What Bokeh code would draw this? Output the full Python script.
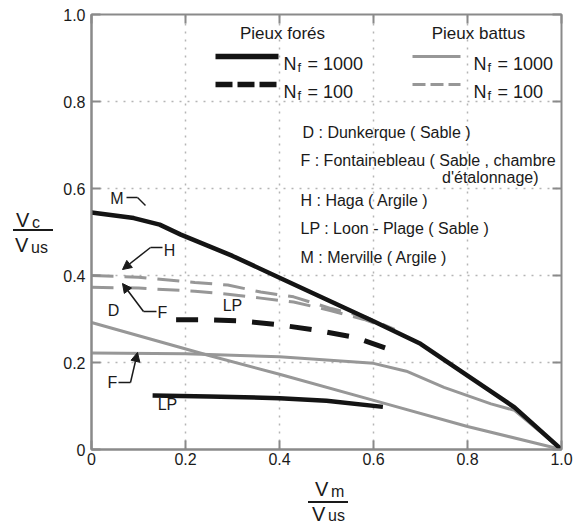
from bokeh.plotting import figure
from bokeh.layouts import row, column
from bokeh.models import Label, Arrow, NormalHead, FixedTicker, LinearAxis, Range1d, Div
from bokeh.embed import file_html
from bokeh.resources import INLINE

# ---------------- data ----------------
# Pieux forés, Nf = 1000 (black solid)
m_x = [0.0, 0.09, 0.145, 0.19, 0.30, 0.40, 0.50, 0.60, 0.70, 0.80, 0.90, 1.0]
m_y = [0.545, 0.532, 0.517, 0.494, 0.445, 0.395, 0.345, 0.295, 0.243, 0.17, 0.097, 0.0]
lp1000_x = [0.13, 0.25, 0.40, 0.50, 0.62]
lp1000_y = [0.124, 0.122, 0.118, 0.112, 0.098]
# Pieux forés, Nf = 100 (black dashed)
lp100_x = [0.18, 0.25, 0.31, 0.39, 0.48, 0.56, 0.64]
lp100_y = [0.298, 0.298, 0.296, 0.288, 0.274, 0.258, 0.228]
# Pieux battus, Nf = 100 (gray dashed)
h100_x = [0.0, 0.10, 0.22, 0.29, 0.36, 0.43, 0.51, 0.58, 0.645]
h100_y = [0.400, 0.396, 0.384, 0.378, 0.362, 0.351, 0.324, 0.306, 0.276]
f100_x = [0.0, 0.10, 0.22, 0.29, 0.36, 0.43, 0.51, 0.58, 0.645]
f100_y = [0.373, 0.371, 0.364, 0.357, 0.348, 0.339, 0.319, 0.299, 0.274]
# Pieux battus, Nf = 1000 (gray solid)
f1000_x = [0.0, 0.2, 0.4, 0.6, 0.67, 0.75, 0.85, 0.90, 1.0]
f1000_y = [0.222, 0.220, 0.213, 0.198, 0.180, 0.143, 0.105, 0.090, 0.0]
d1000_x = [0.0, 0.25, 0.40, 0.61, 0.80, 1.0]
d1000_y = [0.292, 0.216, 0.173, 0.110, 0.053, 0.0]

ticks = [0.0, 0.2, 0.4, 0.6, 0.8, 1.0]
tick_labels = ["0", "0.2", "0.4", "0.6", "0.8", "1.0"]

# ---------------- layout (canvas pixels of the whole page) ----------------
PAGE_W, PAGE_H = 579, 524
YDIV_W = 56            # column holding the y title
PLOT_H = 474           # figure height; x title below it
FL, FR, FT, FB = 91, 561, 14, 449   # frame edges in page pixels

W = PAGE_W - YDIV_W


def X(px):
    return (px - FL) / (FR - FL)


def Y(py):
    return (FB - py) / (FB - FT)


FONT = "Liberation Sans"
BLACK = "#141414"
GRAY = "#979797"
TXT = "#1a1a1a"
FRAME = "#8a8a8a"

p = figure(width=W, height=PLOT_H, x_range=Range1d(0, 1), y_range=Range1d(0, 1),
           output_backend="svg", toolbar_location=None,
           min_border_left=FL - YDIV_W, min_border_right=PAGE_W - FR,
           min_border_top=FT, min_border_bottom=PLOT_H - FB)
p.background_fill_color = "white"
p.border_fill_color = "white"
p.outline_line_color = FRAME
p.outline_line_width = 2

overrides = {t: l for t, l in zip(ticks, tick_labels)}
for ax in (p.xaxis[0], p.yaxis[0]):
    ax.ticker = FixedTicker(ticks=ticks)
    ax.major_label_overrides = overrides
    ax.axis_line_color = FRAME
    ax.axis_line_width = 2
    ax.major_tick_in = 9
    ax.major_tick_out = 0
    ax.major_tick_line_color = FRAME
    ax.major_tick_line_width = 2
    ax.minor_tick_line_color = None
    ax.major_label_text_font = FONT
    ax.major_label_text_font_size = "16px"
    ax.major_label_text_color = TXT
p.yaxis[0].major_label_standoff = 6
p.xaxis[0].major_label_standoff = 3

for side in ("right", "above"):
    ax = LinearAxis(ticker=FixedTicker(ticks=ticks), axis_line_color=None,
                    major_tick_in=9, major_tick_out=0, major_tick_line_color=FRAME,
                    major_tick_line_width=2, minor_tick_line_color=None,
                    major_label_overrides={t: "" for t in ticks},
                    major_label_standoff=0)
    p.add_layout(ax, side)

for g in (p.xgrid[0], p.ygrid[0]):
    g.ticker = FixedTicker(ticks=[0.2, 0.4, 0.6, 0.8])
    g.grid_line_color = "#b5b5b5"
    g.grid_line_width = 1.5
    g.grid_line_dash = "2 6"

# ---------------- curves ----------------
p.line(d1000_x, d1000_y, line_color=GRAY, line_width=3)
p.line(f1000_x, f1000_y, line_color=GRAY, line_width=3)
p.line(h100_x, h100_y, line_color=GRAY, line_width=3, line_dash="22 11")
p.line(f100_x, f100_y, line_color=GRAY, line_width=3, line_dash="22 11")
p.line(lp100_x, lp100_y, line_color=BLACK, line_width=5, line_dash="22 16")
p.line(lp1000_x, lp1000_y, line_color=BLACK, line_width=4.5)
p.line(m_x, m_y, line_color=BLACK, line_width=4.5)


# ---------------- helpers ----------------
def label(px, py, text, size="16px", align="left", baseline="alphabetic", color=TXT):
    p.add_layout(Label(x=X(px), y=Y(py), text=text, text_font=FONT,
                       text_font_size=size, text_align=align,
                       text_baseline=baseline, text_color=color))


def seg(x0, y0, x1, y1, color=TXT, width=1.5, dash="solid", head=False):
    end = NormalHead(size=9, fill_color=color, line_color=color) if head else None
    p.add_layout(Arrow(x_start=X(x0), y_start=Y(y0), x_end=X(x1), y_end=Y(y1),
                       line_color=color, line_width=width, line_dash=dash, end=end))


# ---------------- legend ----------------
label(282, 33, "Pieux forés", size="17px", align="center")
label(478, 33, "Pieux battus", size="17px", align="center")

seg(215, 56, 278, 56, color=BLACK, width=5.5)
seg(215, 84, 278, 84, color=BLACK, width=5.5, dash="17 5")
seg(412, 56, 460, 56, color=GRAY, width=3)
seg(412, 84, 460, 84, color=GRAY, width=3, dash="13 5")

for lx, row_y, val in ((283, 63, "= 1000"), (283, 91, "= 100"),
                       (473, 63, "= 1000"), (473, 91, "= 100")):
    label(lx, row_y, "N", size="18px")
    label(lx + 14, row_y + 4, "f", size="13px")
    label(lx + 24, row_y, val, size="18px")

label(302, 132, "D : Dunkerque ( Sable )")
label(300, 160, "F : Fontainebleau ( Sable , chambre")
label(538, 177, "d'étalonnage)", align="right")
label(300, 200, "H : Haga ( Argile )")
label(300, 228, "LP : Loon - Plage ( Sable )")
label(300, 257, "M : Merville ( Argile )")

# ---------------- curve annotations ----------------
label(116.5, 197.5, "M", baseline="middle", align="center")
seg(126, 197, 137, 197)
seg(137, 197, 145, 205)

label(169, 250, "H", baseline="middle", align="center")
seg(162, 247, 150, 247)
seg(150, 247, 122, 269, head=True)

label(162, 312, "F", baseline="middle", align="center")
seg(156, 311, 143, 311)
seg(143, 311, 122, 283, head=True)

label(113, 310, "D", baseline="middle", align="center")
label(232, 304.5, "LP", baseline="middle", align="center")

label(112, 382, "F", baseline="middle", align="center")
seg(118, 382, 130, 382)
seg(130, 382, 137, 352, head=True)

label(167, 404, "LP", baseline="middle", align="center")


# ---------------- axis titles (fractions) as HTML ----------------
def span(left, baseline, text, size):
    top = baseline - 0.8465 * size
    return (f'<span style="position:absolute;left:{left}px;top:{top:.1f}px;'
            f'font-size:{size}px;line-height:1;white-space:nowrap;">{text}</span>')


def bar(left, y, width):
    return (f'<span style="position:absolute;left:{left}px;top:{y - 1}px;'
            f'width:{width}px;height:0;border-top:2px solid {TXT};"></span>')


def box(w, h, inner):
    return (f'<div style="position:relative;width:{w}px;height:{h}px;margin:0;padding:0;'
            f'font-family:\'{FONT}\';color:{TXT};overflow:hidden;">{inner}</div>')


y_inner = (span(16, 227, "V", 20) + span(32, 228, "c", 16) + bar(13, 229.5, 40)
           + span(15, 252, "V", 20) + span(31, 253.5, "us", 16))
ydiv = Div(text=box(YDIV_W, PAGE_H, y_inner), width=YDIV_W, height=PAGE_H,
           margin=(0, 0, 0, 0))

XDIV_H = PAGE_H - PLOT_H
ox, oy = YDIV_W, PLOT_H
x_inner = (span(315 - ox, 496 - oy, "V", 20) + span(331 - ox, 497 - oy, "m", 16)
           + bar(308 - ox, 501.5 - oy, 40)
           + span(312 - ox, 521 - oy, "V", 20) + span(328 - ox, 521.5 - oy, "us", 16))
xdiv = Div(text=box(W, XDIV_H, x_inner), width=W, height=XDIV_H, margin=(0, 0, 0, 0))

p.margin = (0, 0, 0, 0)
layout = row(ydiv, column(p, xdiv, spacing=0), spacing=0)

open("out.html", "w").write(file_html(layout, INLINE))
